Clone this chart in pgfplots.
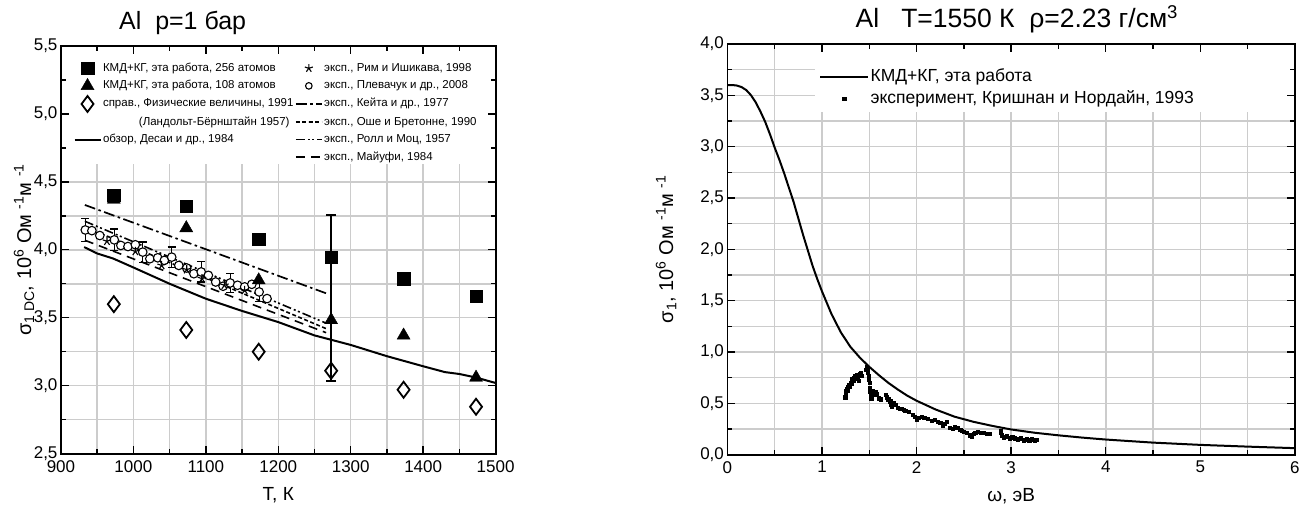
\documentclass[border=0pt]{standalone}
\usepackage{fontspec}
\setmainfont{Liberation Sans}
\usepackage{pgfplots}
\pgfplotsset{compat=1.18}

% layer set with an extra layer between grid and ticks (white box under the legends)
\pgfplotsset{
  layers/patched/.define layer set={
    axis background,axis grid,patch,axis ticks,axis lines,axis tick labels,main,axis descriptions,axis foreground
  }{
    grid style={/pgfplots/on layer=axis grid},
    tick style={/pgfplots/on layer=axis ticks},
    axis line style={/pgfplots/on layer=axis lines},
    label style={/pgfplots/on layer=axis descriptions},
    legend style={/pgfplots/on layer=axis descriptions},
    title style={/pgfplots/on layer=axis descriptions},
    colorbar style={/pgfplots/on layer=axis descriptions},
    ticklabel style={/pgfplots/on layer=axis tick labels},
    axis background@ style={/pgfplots/on layer=axis background},
    3d box foreground style={/pgfplots/on layer=axis foreground},
  },
  panel/.style={
    set layers=patched,
    scale only axis, anchor=south west,
    tick align=inside,
    major tick length=8pt, minor tick length=5pt,
    tick style={black, line width=1.4pt},
    axis line style={black, line width=1.8pt},
    grid=both,
    major grid style={black!20, line width=1.5pt},
    minor grid style={black!20, line width=1.5pt},
    /pgf/number format/assume math mode=true,
    ticklabel style={font=\fontsize{17}{20}\selectfont},
    xticklabel style={yshift=-3pt},
    label style={font=\fontsize{19}{22}\selectfont},
    legend cell align=left,
  },
}
\tikzset{
  desai/.style={black, line width=2pt},
  keita/.style={black, line width=1.7pt, dash pattern=on 11pt off 3.5pt on 2.5pt off 3.5pt},
  oshe/.style={black, line width=1.6pt, dash pattern=on 4pt off 2.5pt},
  roll/.style={black, line width=1.6pt, dash pattern=on 9pt off 3pt on 2pt off 2.5pt on 2pt off 3pt},
  mayufi/.style={black, line width=1.6pt, dash pattern=on 9pt off 6pt},
}

\begin{document}
\begin{tikzpicture}

% ---------------- left: sigma_DC(T) ----------------
\begin{axis}[panel,
  at={(61pt,57pt)}, width=435pt, height=408pt,
  xmin=900, xmax=1500, ymin=2.5, ymax=5.5,
  xtick={900,1000,1100,1200,1300,1400,1500}, minor x tick num=1,
  ytick={2.5,3.0,3.5,4.0,4.5,5.0,5.5}, minor y tick num=1,
  xticklabel style={/pgf/number format/.cd, fixed, 1000 sep={}},
  yticklabel style={/pgf/number format/.cd, fixed, fixed zerofill, precision=1, use comma},
  xlabel={T, К},
  ylabel={σ\textsubscript{1\ DC}, 10\textsuperscript{6} Ом\ \textsuperscript{-1}м\ \textsuperscript{-1}},
  xlabel style={at={(axis description cs:0.5,0)}, anchor=north, yshift=-30pt},
  ylabel style={at={(axis description cs:-0.085,0.5)}, anchor=center, font=\fontsize{20}{23}\selectfont},
  title={Al\ \ p=1 бар},
  title style={at={(axis description cs:0.28,1)}, anchor=base, yshift=10pt, font=\fontsize{25}{30}\selectfont},
  legend columns=2,
  legend style={at={(axis description cs:0.0216,0.969)}, anchor=north west, draw=none, fill=none,
    font=\fontsize{11.5}{13}\selectfont, row sep=2.6pt,
    nodes={inner sep=1.5pt, text height=9pt, text depth=3pt}},
  legend image code/.code={\draw[mark repeat=2,mark phase=2,#1] plot coordinates {(0pt,0pt) (13pt,0pt) (26pt,0pt)};},
]
\addplot[forget plot, on layer=patch, fill=white, draw=none] coordinates {(900,4.63) (1500,4.63) (1500,5.5) (900,5.5)} --cycle;

\addlegendimage{only marks, mark=square*, mark size=6.2pt}
\addlegendentry{КМД+КГ, эта работа, 256 атомов}
\addlegendimage{only marks, mark=star, mark size=4.2pt, line width=1.1pt}
\addlegendentry{эксп., Рим и Ишикава, 1998}
\addlegendimage{only marks, mark=triangle*, mark size=7.5pt}
\addlegendentry{КМД+КГ, эта работа, 108 атомов}
\addlegendimage{only marks, mark=o, mark size=3.3pt, line width=1.1pt}
\addlegendentry{эксп., Плевачук и др., 2008}
\addlegendimage{only marks, mark=diamond, mark size=8pt, line width=1.8pt}
\addlegendentry{справ., Физические величины, 1991}
\addlegendimage{keita}
\addlegendentry{эксп., Кейта и др., 1977}
\addlegendimage{empty legend}
\addlegendentry{\hspace*{36pt}(Ландольт-Бёрнштайн 1957)}
\addlegendimage{oshe}
\addlegendentry{эксп., Оше и Бретонне, 1990}
\addlegendimage{desai}
\addlegendentry{обзор, Десаи и др., 1984}
\addlegendimage{roll}
\addlegendentry{эксп., Ролл и Моц, 1957}
\addlegendimage{empty legend}
\addlegendentry{}
\addlegendimage{mayufi}
\addlegendentry{эксп., Майуфи, 1984}

% review, Desai 1984
\addplot[forget plot, desai] coordinates {
  (932,4.02) (950,3.973) (972,3.936) (1000,3.87) (1050,3.75) (1100,3.64) (1150,3.55)
  (1200,3.468) (1250,3.37) (1300,3.30) (1350,3.217) (1400,3.143) (1430,3.10)
  (1450,3.086) (1473,3.06) (1500,3.02)};
\addplot[forget plot, keita] coordinates {(933,4.33) (1266,3.68)};
\addplot[forget plot, roll] coordinates {(933,4.21) (1266,3.46)};
\addplot[forget plot, oshe] coordinates {(955,4.12) (1266,3.42)};
\addplot[forget plot, mayufi] coordinates {(933,4.07) (1266,3.39)};

% Plevachuk 2008: error bars and circles
\addplot[forget plot, draw=none, mark=none,
  error bars/.cd, y dir=both, y explicit,
  error bar style={draw=black, line width=1.3pt},
  error mark options={rotate=90, draw=black, line width=1.3pt, mark size=4pt}] coordinates {
  (933.6,4.146) +- (0,0.083) (973.6,4.073) +- (0,0.08) (1012.9,3.983) +- (0,0.075)
  (1052.9,3.946) +- (0,0.075) (1093.6,3.837) +- (0,0.075) (1133.6,3.756) +- (0,0.07)
  (1173.6,3.69) +- (0,0.07)};
\addplot[forget plot, only marks, mark=*, mark size=4.3pt, mark options={fill=white, draw=black, line width=1.1pt}] coordinates {
  (933.6,4.146) (942.7,4.141) (953.6,4.105) (973.6,4.073) (982.7,4.032) (992.5,4.024)
  (1002.7,4.037) (1012.9,3.983) (1022.7,3.934) (1033.6,3.941) (1042.7,3.922) (1052.9,3.946)
  (1062.7,3.885) (1073.6,3.866) (1083.5,3.824) (1093.6,3.837) (1103.5,3.812) (1113.6,3.763)
  (1123.8,3.732) (1133.6,3.756) (1143.8,3.739) (1153.6,3.727) (1163.5,3.746) (1173.6,3.69)
  (1184.5,3.641)};
% Rhim & Ishikawa 1998
\addplot[forget plot, only marks, mark=star, mark size=4.5pt, mark options={line width=1.1pt, black}] coordinates {
  (963.5,4.063) (1002.7,3.988) (1039,3.885) (1073.6,3.854) (1094.7,3.788) (1125.6,3.739) (1153.6,3.702)};

% error bar of the simulation at 1273 K
\addplot[forget plot, draw=none, mark=none,
  error bars/.cd, y dir=both, y explicit,
  error bar style={draw=black, line width=2.6pt},
  error mark options={rotate=90, draw=black, line width=2pt, mark size=5pt}] coordinates {(1273,3.645) +- (0,0.61)};

% handbook values
\addplot[forget plot, only marks, mark=diamond, mark size=8pt, mark options={line width=1.8pt, black, fill=white}] coordinates {
  (973,3.60) (1073,3.41) (1173,3.25) (1273,3.11) (1373,2.97) (1473,2.845)};
% QMD+KG, 256 atoms
\addplot[forget plot, only marks, mark=square*, mark size=6.2pt, black] coordinates {
  (973,4.40) (1073,4.32) (1173,4.08) (1273,3.945) (1373,3.788) (1473,3.66)};
% QMD+KG, 108 atoms
\addplot[forget plot, only marks, mark=triangle*, mark size=7.5pt, black] coordinates {
  (973,4.37) (1073,4.16) (1173,3.776) (1273,3.483) (1373,3.37) (1473,3.06)};
\end{axis}

% ---------------- right: sigma_1(omega) ----------------
\begin{axis}[panel,
  at={(728pt,56pt)}, width=568pt, height=411pt,
  xmin=0, xmax=6, ymin=0, ymax=4,
  xtick={0,1,2,3,4,5,6}, minor x tick num=1,
  ytick={0,0.5,1,1.5,2,2.5,3,3.5,4}, minor y tick num=1,
  yticklabel style={/pgf/number format/.cd, fixed, fixed zerofill, precision=1, use comma},
  xlabel={ω, эВ},
  ylabel={σ\textsubscript{1}, 10\textsuperscript{6} Ом\ \textsuperscript{-1}м\ \textsuperscript{-1}},
  xlabel style={at={(axis description cs:0.5,0)}, anchor=north, yshift=-30pt},
  ylabel style={at={(axis description cs:-0.108,0.5)}, anchor=center, font=\fontsize{20}{23}\selectfont},
  title={Al\ \ \ T=1550 К\ \ ρ=2.23 г/см\textsuperscript{3}},
  title style={at={(axis description cs:0.51,1)}, anchor=base, yshift=10pt, font=\fontsize{26.5}{31}\selectfont},
  legend style={at={(axis description cs:0.156,0.949)}, anchor=north west, draw=none, fill=none,
    font=\fontsize{17.5}{20}\selectfont, row sep=1.6pt,
    nodes={inner sep=1.5pt, text height=13pt, text depth=4pt}},
  legend image code/.code={\draw[mark repeat=2,mark phase=2,#1] plot coordinates {(0pt,0pt) (24pt,0pt) (48pt,0pt)};},
]
\addplot[forget plot, on layer=patch, fill=white, draw=none] coordinates {(0.93,3.34) (6,3.34) (6,4) (0.93,4)} --cycle;

\addlegendimage{black, line width=2pt}
\addlegendentry{КМД+КГ, эта работа}
\addlegendimage{only marks, mark=square*, mark size=1.6pt, black}
\addlegendentry{эксперимент, Кришнан и Нордайн, 1993}

\addplot[forget plot, black, line width=2pt] coordinates {
  (0,3.60) (0.05,3.60) (0.1,3.595) (0.15,3.58) (0.2,3.55) (0.25,3.50) (0.3,3.43)
  (0.35,3.34) (0.4,3.24) (0.45,3.12) (0.5,2.99) (0.55,2.87) (0.6,2.74) (0.65,2.60)
  (0.7,2.46) (0.75,2.30) (0.8,2.14) (0.85,1.99) (0.9,1.84) (0.95,1.71) (1.0,1.59)
  (1.1,1.37) (1.2,1.19) (1.3,1.05) (1.4,0.945) (1.5,0.855) (1.6,0.775) (1.7,0.70)
  (1.8,0.635) (1.9,0.575) (2.0,0.525) (2.2,0.44) (2.4,0.37) (2.6,0.32) (2.8,0.28)
  (3.0,0.245) (3.25,0.213) (3.5,0.188) (3.75,0.166) (4.0,0.147) (4.5,0.117)
  (5.0,0.095) (5.5,0.078) (6.0,0.063)};

\addplot[forget plot, only marks, mark=square*, mark size=1.6pt, black] coordinates {
  (1.245,0.56) (1.25,0.59) (1.255,0.62) (1.26,0.64) (1.27,0.62) (1.275,0.66) (1.28,0.68)
  (1.29,0.66) (1.30,0.70) (1.31,0.72) (1.315,0.69) (1.32,0.74) (1.33,0.72) (1.34,0.75)
  (1.35,0.77) (1.36,0.74) (1.37,0.78) (1.38,0.76) (1.39,0.72) (1.40,0.79) (1.41,0.80)
  (1.42,0.77) (1.46,0.83) (1.47,0.86) (1.48,0.84) (1.485,0.80) (1.49,0.77) (1.495,0.73)
  (1.50,0.70) (1.505,0.65) (1.51,0.61) (1.515,0.57) (1.52,0.55) (1.53,0.60) (1.54,0.62)
  (1.55,0.60) (1.56,0.58) (1.57,0.61) (1.58,0.59) (1.60,0.55) (1.62,0.54) (1.67,0.58)
  (1.68,0.56) (1.70,0.54) (1.72,0.52) (1.73,0.49) (1.74,0.47) (1.76,0.50) (1.78,0.49)
  (1.80,0.46) (1.82,0.45) (1.84,0.45) (1.86,0.44) (1.88,0.43) (1.92,0.42) (1.96,0.39)
  (1.98,0.37) (2.00,0.34) (2.02,0.36) (2.05,0.37) (2.08,0.36) (2.12,0.35) (2.16,0.33)
  (2.19,0.34) (2.22,0.32) (2.25,0.31) (2.28,0.28) (2.30,0.30) (2.32,0.32) (2.35,0.26)
  (2.38,0.25) (2.40,0.27) (2.43,0.26) (2.46,0.24) (2.48,0.23) (2.50,0.22) (2.53,0.21)
  (2.56,0.19) (2.58,0.18) (2.60,0.20) (2.62,0.21) (2.65,0.22) (2.68,0.21) (2.71,0.21)
  (2.74,0.20) (2.77,0.20) (2.89,0.23) (2.89,0.21) (2.90,0.19) (2.92,0.17) (2.95,0.18)
  (2.98,0.16) (3.01,0.17) (3.04,0.16) (3.07,0.15) (3.10,0.16) (3.13,0.14) (3.16,0.15)
  (3.19,0.14) (3.22,0.15) (3.25,0.14) (3.27,0.145)};
\end{axis}

% page frame of the reference picture
\path (0,0) rectangle (1303pt,511pt);
\end{tikzpicture}
\end{document}
